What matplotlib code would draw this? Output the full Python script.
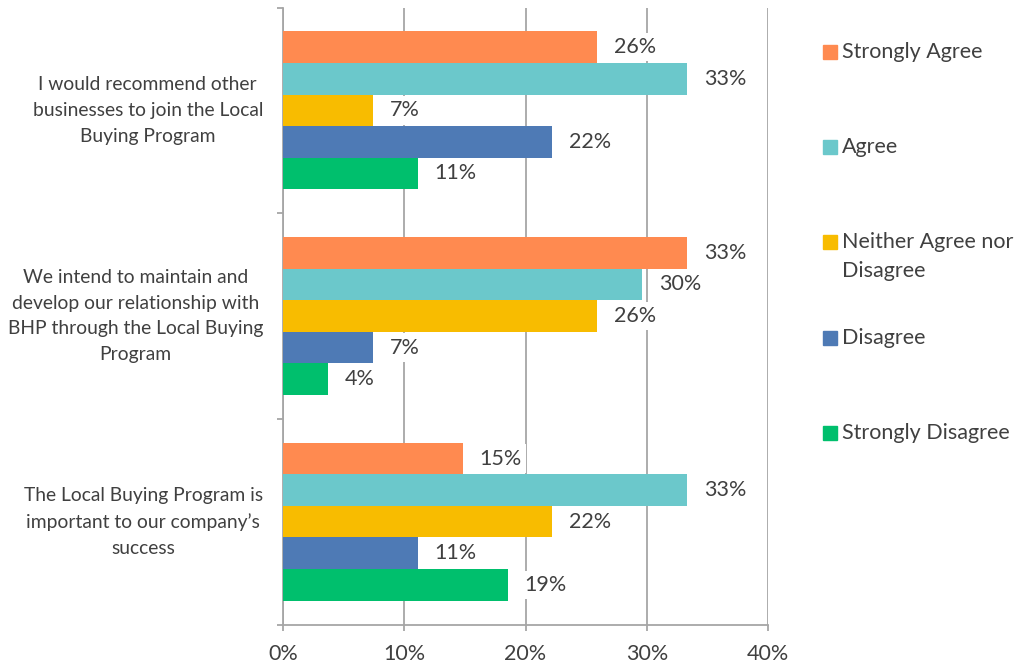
import matplotlib
matplotlib.use("Agg")
import matplotlib.pyplot as plt
from matplotlib.patches import Rectangle
from matplotlib.transforms import offset_copy
import numpy as np

plt.rcParams['font.family'] = ['Lato', 'DejaVu Sans']

# Survey statements (top to bottom)
statements = [
    "I would recommend other\nbusinesses to join the Local\nBuying Program",
    "We intend to maintain and\ndevelop our relationship with\nBHP through the Local Buying\nProgram",
    "The Local Buying Program is\nimportant to our company\u2019s\nsuccess",
]

responses = ["Strongly Agree", "Agree", "Neither Agree nor\nDisagree",
             "Disagree", "Strongly Disagree"]

# Share of respondents (%) per response, one value per statement
strongly_agree = [25.93, 33.33, 14.81]
agree = [33.33, 29.63, 33.33]
neither = [7.41, 25.93, 22.22]
disagree = [22.22, 7.41, 11.11]
strongly_disagree = [11.11, 3.70, 18.52]

series = [strongly_agree, agree, neither, disagree, strongly_disagree]
colors = ["#FF8A50", "#6BC8CB", "#F8BC00", "#4E7AB5", "#00BF6D"]

text_color = "#404040"
grid_color = "#A6A6A6"
fs = 15.5
fs_cat = 13.9

W, H = 1016, 666
fig = plt.figure(figsize=(W / 100, H / 100), dpi=100)
ax_left, ax_right, ax_top, ax_bottom = 283, 768, 7.5, 624.5
ax = fig.add_axes([ax_left / W, 1 - ax_bottom / H,
                   (ax_right - ax_left) / W, (ax_bottom - ax_top) / H])

n_cat = len(statements)
bar_h = 0.1535
y_base = np.arange(n_cat)

for j, (vals, col) in enumerate(zip(series, colors)):
    ypos = y_base + (j - 2) * bar_h
    ax.barh(ypos, vals, height=bar_h, color=col, zorder=3)
    for y, v in zip(ypos, vals):
        ax.annotate(f"{v:.0f}%", xy=(v, y), xytext=(12.2, 0),
                    textcoords="offset points", ha="left", va="center",
                    fontsize=fs, color=text_color, zorder=4,
                    bbox=dict(boxstyle="square,pad=0.2", fc="white", ec="none"))

ax.set_xlim(0, 40)
ax.set_ylim(n_cat - 0.5, -0.5)

xt = np.arange(0, 41, 10)
ax.set_xticks(xt)
ax.set_xticklabels([f"{t}%" for t in xt])
ax.xaxis.grid(True, color=grid_color, linewidth=1.3, zorder=0)
ax.set_axisbelow(True)

ax.set_yticks(np.arange(-0.5, n_cat, 1.0))
ax.set_yticklabels([])

# Category labels, right-aligned a fixed distance left of the axis
label_tf = offset_copy(ax.get_yaxis_transform(), fig=fig, x=-20 * 72 / 100,
                       units="points")
for y, s in zip(y_base, statements):
    ax.text(0, y, s, transform=label_tf, ha="right", va="center",
            multialignment="center", linespacing=1.62, fontsize=fs_cat,
            color=text_color)

ax.tick_params(axis="y", which="major", length=4, width=1.3, color=grid_color,
               direction="out")
ax.tick_params(axis="x", which="major", length=4, width=1.3, color=grid_color,
               direction="out", pad=10, labelsize=fs, labelcolor=text_color)

for side in ["top", "right"]:
    ax.spines[side].set_visible(False)
for side in ["left", "bottom"]:
    ax.spines[side].set_color(grid_color)
    ax.spines[side].set_linewidth(1.3)

# Legend drawn at fixed rows on the right
legend_rows = [52, 147, 242, 338, 433]
for label, col, yc in zip(responses, colors, legend_rows):
    fig.patches.append(Rectangle((823 / W, 1 - (yc + 7) / H), 14 / W, 14 / H,
                                 transform=fig.transFigure, color=col))
    for k, line in enumerate(label.split("\n")):
        fig.text(842 / W, 1 - (yc + 29 * k) / H, line, ha="left", va="center",
                 fontsize=fs, color=text_color)

fig.savefig("out.png", dpi=100)
